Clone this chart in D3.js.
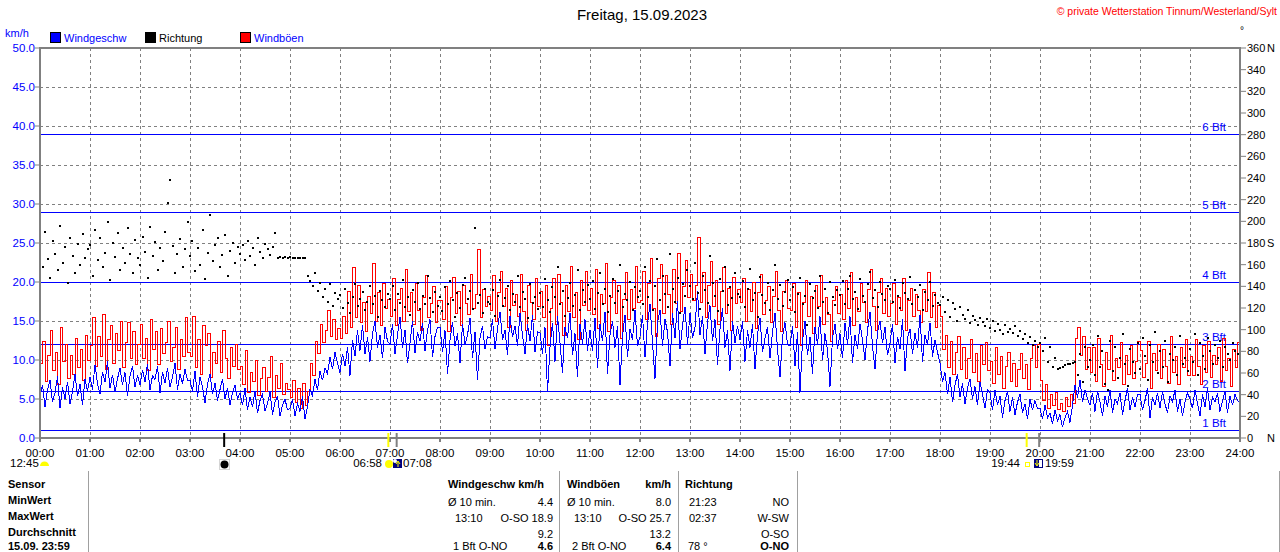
<!DOCTYPE html>
<html>
<head>
<meta charset="utf-8">
<script src="https://cdn.jsdelivr.net/npm/d3@7"></script>
<style>
  body { margin: 0; background: #fff; }
  svg { display: block; }
  text { font-family: "Liberation Sans", Arial, sans-serif; }
</style>
</head>
<body>
<svg id="chart" width="1280" height="552"></svg>
<script>
// --- data ---
const title = "Freitag, 15.09.2023";
const credit = "\u00a9 private Wetterstation Tinnum/Westerland/Sylt";

// wind speed and gusts in km/h, one value every 3 minutes, 00:00 to 24:00
const speedStep = 3;
const windSpeed = [
  5.2, 6.8, 4.0, 6.2, 7.4, 4.6, 5.8, 7.9, 3.8, 6.5, 5.0, 7.2, 4.4, 6.0, 8.2, 5.4, 6.9, 4.2, 7.6, 6.0,
  7.8, 6.2, 9.4, 7.0, 5.6, 8.5, 7.2, 9.8, 6.4, 8.1, 5.9, 7.6, 9.0, 6.8, 8.4, 5.4, 7.9, 9.2, 6.6, 8.0,
  6.8, 8.7, 7.2, 9.5, 6.1, 8.0, 7.5, 9.2, 5.8, 8.4, 7.1, 8.9, 6.5, 7.8, 9.6, 6.2, 8.2, 7.0, 8.8, 7.4,
  7.4, 6.0, 8.6, 5.2, 7.8, 6.6, 4.5, 6.9, 8.2, 5.6, 7.0, 4.8, 6.2, 7.6, 5.0, 6.4, 4.2, 5.8, 6.8, 5.0,
  5.8, 4.2, 6.4, 3.6, 5.2, 4.0, 6.0, 3.2, 4.8, 5.6, 3.5, 4.4, 5.9, 3.0, 4.6, 5.4, 2.8, 4.2, 5.0, 3.6,
  3.8, 5.0, 2.8, 4.4, 3.4, 5.4, 2.4, 4.0, 6.2, 5.4, 7.5, 6.2, 8.6, 7.4, 9.0, 8.2, 10.4, 8.8, 11.0, 9.6,
  8.4, 10.8, 9.2, 11.6, 8.0, 12.6, 10.5, 13.8, 11.2, 14.5, 10.8, 12.9, 9.8, 13.4, 15.0, 11.6, 13.2, 10.2, 14.2, 12.4,
  12.0, 14.6, 10.8, 13.2, 15.5, 11.6, 13.9, 9.6, 12.2, 15.0, 10.9, 13.6, 12.4, 14.8, 11.2, 13.8, 15.2, 10.4, 13.0, 14.2,
  14.2, 11.0, 13.8, 8.2, 12.5, 14.9, 11.8, 13.4, 9.6, 14.6, 12.0, 13.2, 15.4, 10.2, 13.6, 7.4, 12.8, 14.4, 11.4, 13.0,
  12.8, 15.2, 11.4, 14.0, 16.2, 12.6, 13.8, 10.6, 15.6, 12.9, 14.4, 11.8, 16.0, 13.2, 10.8, 14.6, 12.4, 15.8, 11.0, 13.6,
  13.5, 10.8, 14.2, 5.9, 11.6, 14.8, 9.8, 15.6, 12.2, 8.4, 14.2, 12.8, 16.0, 10.6, 13.4, 7.8, 14.6, 12.0, 15.2, 11.2,
  13.8, 11.2, 15.4, 9.0, 14.6, 12.4, 16.2, 8.2, 13.2, 15.0, 11.6, 14.4, 6.8, 13.0, 15.8, 10.4, 14.0, 12.6, 16.4, 11.8,
  13.0, 15.8, 10.4, 14.6, 17.2, 12.2, 7.6, 14.8, 16.4, 11.8, 15.2, 13.6, 9.2, 16.0, 12.8, 17.6, 11.4, 14.4, 16.8, 12.0,
  16.0, 12.8, 14.2, 18.9, 13.2, 15.6, 10.8, 14.8, 17.0, 12.4, 15.2, 9.4, 14.0, 16.6, 11.6, 13.8, 8.6, 15.0, 12.2, 14.4,
  12.6, 15.0, 9.8, 13.8, 11.6, 14.6, 8.8, 13.2, 15.4, 11.0, 12.8, 14.2, 10.2, 13.6, 16.0, 11.4, 7.8, 13.0, 14.8, 12.0,
  11.8, 14.4, 9.2, 13.6, 5.8, 12.4, 15.0, 10.6, 13.0, 8.2, 14.2, 12.0, 15.6, 10.0, 13.4, 11.2, 6.6, 12.8, 14.6, 11.4,
  13.4, 10.2, 14.8, 12.0, 15.6, 9.6, 13.2, 11.4, 14.6, 12.6, 10.0, 13.8, 16.2, 11.8, 8.8, 13.6, 15.0, 12.2, 14.2, 10.6,
  12.2, 14.6, 9.6, 13.0, 11.4, 15.2, 8.6, 12.8, 14.0, 10.8, 13.4, 11.6, 15.8, 9.8, 13.2, 12.0, 14.8, 10.4, 12.6, 11.0,
  9.6, 7.2, 8.4, 5.6, 7.8, 4.6, 6.8, 8.2, 5.2, 7.0, 4.4, 6.4, 7.6, 5.0, 6.6, 4.2, 7.2, 5.6, 3.8, 6.2,
  5.8, 3.6, 6.2, 4.2, 5.4, 2.6, 4.8, 6.0, 3.4, 5.2, 3.0, 4.6, 5.6, 3.2, 4.4, 2.4, 5.0, 3.6, 4.8, 3.8,
  3.8, 2.4, 4.2, 2.6, 3.2, 1.8, 3.6, 2.2, 3.0, 1.4, 2.6, 3.4, 2.0, 4.2, 6.8, 5.2, 7.4, 4.6, 6.2, 5.0,
  4.2, 5.8, 3.4, 6.0, 4.6, 2.8, 5.4, 4.0, 6.2, 3.2, 5.0, 4.4, 5.8, 3.0, 4.8, 6.4, 3.6, 5.2, 4.0, 5.6,
  5.6, 3.6, 4.8, 6.4, 2.6, 5.2, 4.2, 5.8, 3.8, 6.0, 4.4, 3.2, 5.4, 4.6, 6.2, 3.4, 5.0, 2.8, 4.6, 5.8,
  5.0, 3.8, 6.2, 4.4, 2.8, 5.6, 4.0, 6.4, 3.6, 5.2, 4.6, 5.8, 3.4, 4.8, 6.0, 3.2, 5.4, 4.2, 5.6, 4.8,
  4.6
];

const windGust = [
  9.5, 12.4, 7.2, 10.6, 13.8, 8.6, 11.0, 6.8, 14.2, 9.8, 12.0, 7.6, 10.6, 8.2, 12.8, 9.0, 11.4, 7.4, 13.2, 10.0,
  11.8, 15.4, 9.2, 13.0, 10.4, 15.8, 8.8, 12.6, 14.4, 9.6, 13.4, 11.2, 15.0, 9.0, 12.2, 14.8, 10.2, 13.6, 9.4, 12.0,
  14.6, 10.2, 12.8, 8.6, 15.2, 11.4, 13.6, 9.4, 14.0, 10.8, 12.2, 15.0, 9.8, 11.6, 14.2, 8.8, 12.6, 10.4, 15.4, 11.0,
  10.4, 15.6, 9.0, 12.6, 8.2, 14.4, 11.8, 13.4, 7.8, 11.0, 9.6, 12.4, 8.4, 13.8, 10.2, 7.6, 11.6, 9.2, 12.0, 8.8,
  9.2, 6.8, 11.2, 5.8, 8.4, 7.2, 10.0, 5.4, 7.6, 9.0, 6.0, 7.8, 10.4, 5.2, 8.0, 6.4, 9.6, 5.6, 7.0, 6.2,
  5.2, 7.4, 4.6, 6.4, 3.8, 7.0, 4.2, 6.0, 9.6, 8.0, 12.4, 10.8, 14.6, 12.2, 13.8, 16.4, 13.0, 15.2, 12.6, 14.0,
  12.8, 15.6, 13.4, 18.8, 14.2, 21.8, 15.4, 19.6, 14.8, 17.4, 13.6, 18.2, 16.0, 22.4, 15.0, 18.6, 14.4, 19.8, 16.6, 17.8,
  15.6, 20.4, 14.4, 17.8, 19.2, 15.0, 21.6, 16.2, 18.6, 14.6, 19.8, 16.4, 13.8, 18.0, 20.8, 15.4, 17.2, 19.4, 14.8, 17.6,
  17.6, 15.2, 19.4, 13.6, 18.0, 20.6, 16.0, 18.8, 14.4, 19.6, 17.2, 15.8, 21.0, 16.6, 18.4, 24.2, 15.4, 19.0, 16.8, 18.2,
  16.4, 20.8, 15.0, 18.6, 21.4, 16.8, 19.2, 14.2, 20.2, 17.0, 18.4, 15.6, 21.0, 16.2, 13.8, 19.6, 17.4, 15.2, 20.4, 16.8,
  18.8, 15.4, 19.6, 11.8, 16.6, 20.4, 14.6, 21.0, 17.4, 13.2, 19.6, 16.2, 22.0, 15.4, 18.6, 12.6, 20.2, 17.0, 21.4, 16.4,
  19.2, 15.8, 21.6, 14.0, 18.4, 17.2, 22.4, 13.6, 18.0, 20.2, 16.0, 19.6, 12.8, 17.8, 21.2, 15.2, 19.0, 16.6, 22.0, 17.4,
  17.6, 21.4, 15.2, 19.8, 23.0, 16.6, 13.0, 20.4, 22.2, 16.0, 20.8, 18.4, 14.6, 21.6, 17.2, 23.6, 16.2, 19.4, 22.8, 18.0,
  21.0, 17.6, 19.6, 25.7, 17.4, 21.2, 15.4, 19.6, 22.6, 16.8, 20.2, 14.6, 18.8, 21.8, 16.0, 19.2, 13.8, 20.6, 17.2, 19.0,
  17.4, 20.4, 15.0, 19.0, 16.2, 20.0, 14.0, 18.6, 21.0, 15.8, 17.6, 19.4, 14.8, 18.2, 21.4, 16.4, 13.6, 18.8, 20.2, 16.6,
  16.4, 19.8, 14.2, 18.6, 11.8, 17.4, 20.2, 15.6, 18.2, 13.4, 19.6, 16.8, 20.8, 14.6, 18.0, 15.8, 12.4, 17.6, 19.4, 16.0,
  18.4, 15.2, 20.2, 16.6, 21.2, 14.4, 18.0, 16.2, 19.8, 17.4, 14.8, 19.0, 21.6, 16.8, 13.8, 18.6, 20.4, 16.0, 19.2, 15.6,
  17.2, 19.8, 14.6, 18.0, 16.4, 20.4, 13.8, 17.6, 19.2, 15.6, 18.4, 16.4, 14.8, 19.0, 16.2, 21.2, 15.4, 18.6, 14.2, 17.0,
  15.6, 11.4, 13.2, 9.0, 12.4, 8.2, 11.0, 13.0, 8.8, 11.6, 7.6, 10.2, 12.6, 8.4, 10.8, 7.2, 11.8, 9.4, 12.2, 8.6,
  9.8, 7.0, 11.6, 8.2, 10.4, 6.4, 9.2, 11.0, 7.2, 9.6, 6.6, 8.8, 10.8, 7.6, 9.4, 6.2, 10.2, 11.8, 9.0, 12.0,
  7.4, 4.8, 6.8, 3.8, 5.6, 4.2, 5.8, 3.6, 4.4, 3.4, 5.2, 4.0, 5.6, 4.4, 12.8, 14.2, 10.6, 13.0, 8.8, 11.6,
  8.4, 11.6, 7.2, 12.8, 9.4, 6.6, 11.0, 8.8, 13.2, 7.4, 10.2, 9.0, 12.2, 6.8, 10.6, 8.2, 11.8, 7.6, 9.8, 12.4,
  11.2, 7.8, 9.6, 12.4, 6.4, 10.8, 8.6, 12.0, 7.6, 11.4, 9.2, 7.0, 13.0, 8.4, 10.4, 6.8, 11.6, 9.0, 12.6, 8.0,
  10.4, 8.0, 12.6, 9.2, 6.8, 11.8, 8.4, 12.4, 7.8, 10.6, 9.4, 11.6, 7.2, 12.8, 8.6, 10.2, 6.6, 11.4, 9.0, 12.2,
  6.4
];

// wind direction in degrees, one value every 3 minutes
const dirStep = 3;
const windDir = [
  172, 158, 190, 165, 148, 182, 170, 155, 196, 162, 176, 143, 185, 168, 152, 179, 160, 188, 166, 174,
  178, 150, 192, 164, 185, 158, 171, 199, 146, 180, 167, 189, 155, 175, 162, 194, 170, 152, 183, 166,
  160, 186, 172, 148, 195, 168, 181, 155, 175, 163, 190, 217, 238, 177, 152, 170, 184, 158, 174, 199,
  168, 182, 154, 175, 160, 192, 147, 171, 206, 163, 178, 185, 158, 169, 187, 150, 173, 180, 162, 176,
  170, 178, 164, 182, 168, 175, 160, 185, 172, 166, 179, 174, 169, 176, 189, 166, 167, 166, 167, 166,
  167, 166, 166, 166, 166, 166, 166, 150, 145, 140, 152, 136, 143, 130, 138, 126, 142, 122, 134, 128,
  132, 120, 138, 125, 115, 130, 142, 122, 128, 135, 118, 126, 140, 124, 131, 112, 136, 127, 121, 133,
  128, 140, 118, 133, 125, 146, 121, 130, 114, 137, 126, 143, 119, 131, 124, 150, 129, 116, 135, 122,
  130, 117, 139, 124, 145, 127, 112, 134, 120, 141, 148, 128, 136, 119, 194, 125, 132, 115, 138, 126,
  124, 137, 113, 131, 146, 122, 129, 140, 118, 133, 126, 150, 121, 135, 128, 111, 142, 125, 130, 119,
  134, 121, 147, 127, 116, 139, 130, 158, 124, 136, 113, 129, 143, 122, 132, 155, 118, 137, 126, 141,
  128, 145, 119, 134, 152, 124, 138, 116, 131, 147, 125, 136, 160, 121, 133, 127, 144, 118, 139, 130,
  136, 124, 158, 130, 145, 118, 140, 165, 127, 150, 133, 121, 170, 138, 126, 148, 115, 142, 131, 155,
  140, 128, 162, 134, 119, 150, 137, 125, 168, 143, 131, 117, 147, 136, 158, 123, 139, 129, 152, 133,
  130, 145, 121, 138, 156, 127, 134, 112, 149, 132, 125, 143, 118, 137, 160, 128, 141, 122, 135, 146,
  127, 139, 116, 133, 148, 124, 131, 104, 142, 129, 136, 120, 150, 126, 138, 115, 144, 130, 123, 137,
  132, 145, 124, 138, 150, 128, 135, 119, 147, 131, 126, 142, 153, 129, 137, 121, 144, 133, 127, 140,
  138, 126, 146, 131, 120, 143, 134, 128, 149, 124, 137, 130, 141, 118, 135, 127, 144, 122, 132, 125,
  123, 130, 116, 127, 112, 125, 119, 108, 121, 114, 110, 118, 106, 113, 109, 104, 111, 107, 103, 110,
  102, 108, 99, 105, 100, 96, 104, 98, 101, 97, 103, 94, 99, 91, 96, 88, 93, 86, 90, 84,
  88, 80, 92, 70, 84, 66, 74, 64, 65, 66, 67, 68, 68, 69, 70, 58, 78, 52, 84, 66,
  72, 86, 58, 94, 66, 80, 50, 44, 90, 62, 84, 55, 74, 96, 68, 48, 82, 70, 60, 88,
  64, 92, 76, 54, 86, 70, 98, 60, 80, 66, 90, 52, 78, 72, 84, 58, 94, 68, 74, 62,
  82, 70, 96, 58, 88, 76, 64, 92, 80, 68, 86, 74, 90, 66, 84, 78, 72, 88, 80, 78
];

const hours = d3.range(0, 25);
const speedTicks = d3.range(0, 51, 5);
const dirTicks = d3.range(0, 361, 20);
const dirNames = { 0: "N", 180: "S", 360: "N" };
const bftLimits = [1, 6, 12, 20, 29, 39];
const bftLabels = ["1 Bft", "2 Bft", "3 Bft", "4 Bft", "5 Bft", "6 Bft"];

const legendItems = [
  { name: "Windgeschw", color: "#0000ff", x: 50 },
  { name: "Richtung", color: "#000000", x: 145 },
  { name: "Windb\u00f6en", color: "#ff0000", x: 240 }
];

// sun / moon marks under the axis
const dayMarks = [
  { time: "03:41", color: "#000000" },
  { time: "06:58", color: "#ffff00" },
  { time: "07:08", color: "#808080" },
  { time: "19:44", color: "#ffff00" },
  { time: "19:59", color: "#808080" }
];

// table under the chart
const rowLabels = ["Sensor", "MinWert", "MaxWert", "Durchschnitt", "15.09. 23:59"];
const speedRows = [["\u00d8 10 min.", "4.4"], ["13:10", "O-SO 18.9"], ["", "9.2"], ["1 Bft O-NO", "4.6"]];
const gustRows = [["\u00d8 10 min.", "8.0"], ["13:10", "O-SO 25.7"], ["", "13.2"], ["2 Bft O-NO", "6.4"]];
const dirRows = [["21:23", "NO"], ["02:37", "W-SW"], ["", "O-SO"], ["78 \u00b0", "O-NO"]];

// --- drawing ---
const svg = d3.select("#chart");
const plotLeft = 40, plotRight = 1240, plotTop = 48, plotBottom = 438;

const x = d3.scaleLinear().domain([0, 1440]).range([plotLeft, plotRight]);
const y = d3.scaleLinear().domain([0, 50]).range([plotBottom, plotTop]);
const yDir = d3.scaleLinear().domain([0, 360]).range([plotBottom, plotTop]);
const toMin = s => { const p = s.split(":"); return +p[0] * 60 + +p[1]; };

svg.append("text").attr("x", 642).attr("y", 20).attr("text-anchor", "middle")
  .attr("font-size", 15).attr("fill", "#000").text(title);
svg.append("text").attr("x", 1277).attr("y", 15).attr("text-anchor", "end")
  .attr("font-size", 10.5).attr("fill", "#ff0000").text(credit);
svg.append("text").attr("x", 5).attr("y", 37).attr("font-size", 11)
  .attr("fill", "#0000ff").text("km/h");
svg.append("text").attr("x", 1240).attr("y", 34).attr("font-size", 10)
  .attr("fill", "#000").text("\u00b0");

// legend
const leg = svg.append("g").selectAll("g").data(legendItems).enter().append("g");
leg.append("rect").attr("x", d => d.x + 0.5).attr("y", 32.5).attr("width", 10).attr("height", 10)
  .attr("fill", d => d.color).attr("stroke", "#000");
leg.append("text").attr("x", d => d.x + 14).attr("y", 42).attr("font-size", 11)
  .attr("fill", d => d.color === "#000000" ? "#000" : "#0000ff").text(d => d.name);

// dashed grid
const grid = svg.append("g").attr("stroke", "#808080").attr("stroke-dasharray", "3,3")
  .attr("shape-rendering", "crispEdges");
grid.selectAll("line.v").data(hours.slice(1, 24)).enter().append("line")
  .attr("x1", h => x(h * 60) + 0.5).attr("x2", h => x(h * 60) + 0.5)
  .attr("y1", plotTop).attr("y2", plotBottom);
grid.selectAll("line.h").data(speedTicks.slice(1, 10)).enter().append("line")
  .attr("x1", plotLeft).attr("x2", plotRight)
  .attr("y1", v => Math.round(y(v)) + 0.5).attr("y2", v => Math.round(y(v)) + 0.5);

// Beaufort limits
const bft = svg.append("g");
bft.selectAll("line").data(bftLimits).enter().append("line")
  .attr("x1", plotLeft).attr("x2", plotRight)
  .attr("y1", v => Math.round(y(v)) + 0.5).attr("y2", v => Math.round(y(v)) + 0.5)
  .attr("stroke", "#0000ff").attr("shape-rendering", "crispEdges");
bft.selectAll("text").data(bftLimits).enter().append("text")
  .attr("x", 1226).attr("y", v => y(v) - 3).attr("text-anchor", "end")
  .attr("font-size", 11.5).attr("fill", "#0000ff").text((v, i) => bftLabels[i]);

// gusts, speed, direction
svg.append("path").datum(windGust)
  .attr("fill", "none").attr("stroke", "#ff0000").attr("stroke-width", 1)
  .attr("shape-rendering", "crispEdges")
  .attr("d", d3.line().x((d, i) => x(i * speedStep)).y(d => y(d)).curve(d3.curveStepAfter));
svg.append("path").datum(windSpeed)
  .attr("fill", "none").attr("stroke", "#0000ff").attr("stroke-width", 1)
  .attr("shape-rendering", "crispEdges")
  .attr("d", d3.line().x((d, i) => x(i * speedStep)).y(d => y(d)));
svg.append("g").attr("shape-rendering", "crispEdges")
  .selectAll("rect").data(windDir).enter().append("rect")
  .attr("x", (d, i) => Math.round(x(i * dirStep)) - 1).attr("y", d => Math.round(yDir(d)) - 1)
  .attr("width", 2).attr("height", 2).attr("fill", "#000");

// frame
svg.append("rect").attr("x", plotLeft).attr("y", plotTop)
  .attr("width", plotRight - plotLeft).attr("height", plotBottom - plotTop)
  .attr("fill", "none").attr("stroke", "#808080").attr("stroke-width", 2);

// left axis
const yl = svg.append("g");
yl.selectAll("line").data(speedTicks).enter().append("line")
  .attr("x1", 35).attr("x2", plotLeft).attr("y1", v => y(v)).attr("y2", v => y(v)).attr("stroke", "#808080");
yl.selectAll("text").data(speedTicks).enter().append("text")
  .attr("x", 35).attr("y", v => y(v) + 4).attr("text-anchor", "end")
  .attr("font-size", 11.5).attr("fill", "#0000ff").text(v => v.toFixed(1));

// right axis
const yr = svg.append("g");
yr.selectAll("line").data(dirTicks).enter().append("line")
  .attr("x1", plotRight).attr("x2", 1246).attr("y1", v => yDir(v)).attr("y2", v => yDir(v)).attr("stroke", "#808080");
yr.selectAll("text.n").data(dirTicks).enter().append("text")
  .attr("x", 1247).attr("y", v => yDir(v) + 4)
  .attr("font-size", 11).attr("fill", "#000").text(v => v);
yr.selectAll("text.c").data(dirTicks.filter(v => dirNames[v])).enter().append("text")
  .attr("x", 1267).attr("y", v => yDir(v) + 4)
  .attr("font-size", 11).attr("fill", "#000").text(v => dirNames[v]);

// bottom axis
const xa = svg.append("g");
xa.selectAll("line").data(hours).enter().append("line")
  .attr("x1", h => x(h * 60)).attr("x2", h => x(h * 60))
  .attr("y1", plotBottom).attr("y2", plotBottom + 4).attr("stroke", "#808080").attr("stroke-width", 2);
xa.selectAll("text").data(hours).enter().append("text")
  .attr("x", h => x(h * 60)).attr("y", 457).attr("text-anchor", "middle")
  .attr("font-size", 11.5).attr("fill", "#000").text(h => d3.format("02d")(h) + ":00");

// day marks
svg.append("g").selectAll("line").data(dayMarks).enter().append("line")
  .attr("x1", d => x(toMin(d.time))).attr("x2", d => x(toMin(d.time)))
  .attr("y1", 433).attr("y2", 447).attr("stroke", d => d.color).attr("stroke-width", 2);

const ic = svg.append("g");
ic.append("text").attr("x", 10).attr("y", 467).attr("font-size", 11.5).text("12:45");
ic.append("path").attr("d", "M40,466 A4.5,4.5 0 0 1 49,466 Z").attr("fill", "#ffff00");
// moon
ic.append("rect").attr("x", 219.5).attr("y", 459.5).attr("width", 10).attr("height", 10)
  .attr("fill", "none").attr("stroke", "#aaa").attr("stroke-dasharray", "1,1");
ic.append("circle").attr("cx", 224.5).attr("cy", 464.5).attr("r", 4).attr("fill", "#000");
// sunrise
ic.append("text").attr("x", 382).attr("y", 467).attr("text-anchor", "end").attr("font-size", 11.5).text("06:58");
ic.append("circle").attr("cx", 389).attr("cy", 464).attr("r", 4).attr("fill", "#ffff00");
ic.append("rect").attr("x", 393).attr("y", 459).attr("width", 9).attr("height", 9).attr("fill", "#00007f");
ic.append("circle").attr("cx", 395).attr("cy", 461).attr("r", 2).attr("fill", "#fff");
ic.append("path").attr("d", "M398,467 L398,462 M396,464 L398,461 L400,464").attr("stroke", "#ffff00").attr("fill", "none");
ic.append("text").attr("x", 403).attr("y", 467).attr("font-size", 11.5).text("07:08");
// sunset
ic.append("text").attr("x", 1020).attr("y", 467).attr("text-anchor", "end").attr("font-size", 11.5).text("19:44");
ic.append("rect").attr("x", 1025.5).attr("y", 462.5).attr("width", 4).attr("height", 4)
  .attr("fill", "none").attr("stroke", "#ffff00");
ic.append("rect").attr("x", 1034).attr("y", 459).attr("width", 9).attr("height", 9).attr("fill", "#00007f");
ic.append("rect").attr("x", 1039).attr("y", 460).attr("width", 3).attr("height", 7).attr("fill", "#fff");
ic.append("path").attr("d", "M1037,460 L1037,465 M1035,463 L1037,466 L1039,463").attr("stroke", "#ffff00").attr("fill", "none");
ic.append("text").attr("x", 1045).attr("y", 467).attr("font-size", 11.5).text("19:59");

// table
const tb = svg.append("g").attr("font-size", 11).attr("fill", "#000");
[88, 559, 678, 797, 1279].forEach(sx => {
  tb.append("line").attr("x1", sx + 0.5).attr("x2", sx + 0.5).attr("y1", 471).attr("y2", 552)
    .attr("stroke", "#a0a0a0");
});
const labelY = [488, 504, 520, 536, 550];
rowLabels.forEach((t, i) => {
  tb.append("text").attr("x", 8).attr("y", labelY[i]).attr("font-weight", "bold").text(t);
});
tb.append("text").attr("x", 448).attr("y", 488).attr("font-weight", "bold").text("Windgeschw km/h");
tb.append("text").attr("x", 567).attr("y", 488).attr("font-weight", "bold").text("Windb\u00f6en");
tb.append("text").attr("x", 671).attr("y", 488).attr("font-weight", "bold").attr("text-anchor", "end").text("km/h");
tb.append("text").attr("x", 685).attr("y", 488).attr("font-weight", "bold").text("Richtung");

const valueY = [506, 522, 538, 550];
const cols = [
  { rows: speedRows, lx: [448, 455, 455, 453], rx: 553 },
  { rows: gustRows, lx: [567, 574, 574, 572], rx: 671 },
  { rows: dirRows, lx: [689, 689, 689, 688], rx: 789 }
];
cols.forEach(c => {
  c.rows.forEach((r, i) => {
    tb.append("text").attr("x", c.lx[i]).attr("y", valueY[i]).text(r[0]);
    tb.append("text").attr("x", c.rx).attr("y", valueY[i]).attr("text-anchor", "end")
      .attr("font-weight", i === 3 ? "bold" : "normal").text(r[1]);
  });
});
</script>
</body>
</html>
